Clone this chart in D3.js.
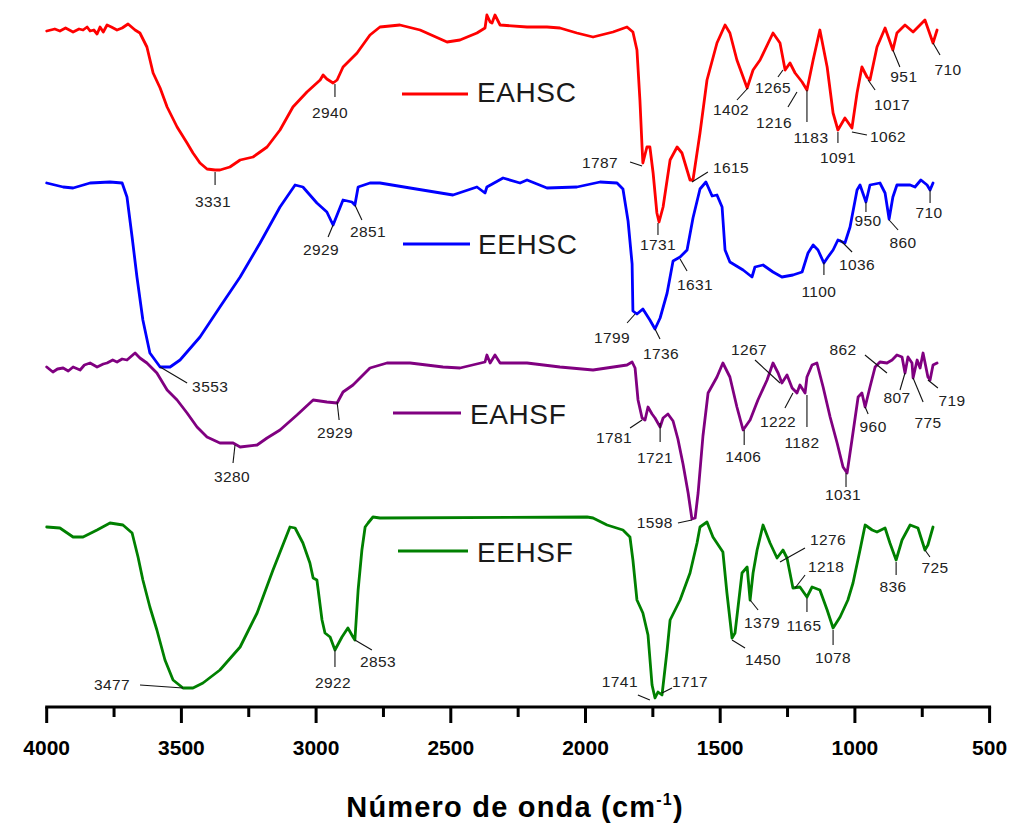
<!DOCTYPE html>
<html>
<head>
<meta charset="utf-8">
<script src="https://cdn.jsdelivr.net/npm/d3@7/dist/d3.min.js"></script>
<style>
  html, body { margin: 0; padding: 0; background: #fff; }
  svg { display: block; }
</style>
</head>
<body>
<svg id="chart" width="1014" height="827"></svg>
<script>
// FTIR spectra, stacked traces: wavenumber (cm-1) vs. offset transmittance (a.u.)
const seriesNames = ["EAHSC", "EEHSC", "EAHSF", "EEHSF"];
const seriesColors = ["#ff0000", "#0000ff", "#800080", "#008000"];
const xTicks = [4000, 3500, 3000, 2500, 2000, 1500, 1000, 500];

const eahsc = [
  [4000,67.5],[3970,67.7],[3951,67.5],[3930,67.8],[3902,67.4],[3880,67.7],[3865,67.6],[3850,67.9],[3839,67.5],[3825,67.6],[3813,67.2],[3802,67.9],[3790,67.4],
  [3776,68.1],[3760,67.9],[3739,67.6],[3720,67.8],[3698,68.2],[3672,67.6],[3654,67.3],[3628,65.9],[3605,63.3],
  [3579,61.8],[3553,59.9],[3516,57.9],[3479,56.3],[3457,55.3],[3431,54.3],[3405,53.7],[3375,53.6],
  [3357,53.6],[3320,53.9],[3282,54.6],[3234,54.9],[3208,55.4],[3182,55.9],[3134,57.6],[3086,59.9],
  [3034,61.4],[2985,62.6],[2974,63.1],[2960,62.7],[2937,62.3],[2922,62.6],[2900,63.9],[2848,65.3],
  [2800,67.1],[2763,67.9],[2689,68.1],[2614,67.6],[2514,66.4],[2466,66.6],[2403,67.3],[2373,67.8],
  [2366,69.1],[2354,68.4],[2347,68.3],[2336,69.1],[2317,68.1],[2217,67.9],[2143,67.9],[2095,67.8],
  [2032,67.3],[1972,66.9],[1898,67.4],[1846,67.9],[1824,67.4],[1809,65.6],[1798,60.6],[1790,55.9],
  [1787,54.3],[1772,55.9],[1761,55.9],[1749,53.3],[1735,49.3],[1727,48.4],[1712,49.9],[1686,54.6],
  [1660,55.9],[1642,55.3],[1612,52.6],[1601,52.6],[1575,57.3],[1549,62.6],[1512,66.3],[1482,68.1],
  [1464,67.3],[1438,64.6],[1400,61.8],[1378,63.6],[1352,64.6],[1304,67.3],[1278,66.3],[1259,63.6],
  [1241,64.3],[1222,63.3],[1196,62.4],[1178,61.6],[1155,64.6],[1130,67.6],[1103,63.9],[1081,59.3],
  [1063,57.6],[1037,58.8],[1011,57.8],[992,61.3],[974,63.9],[955,62.9],[944,62.6],[918,65.9],
  [888,67.8],[859,65.6],[844,67.3],[814,68.1],[784,67.4],[740,68.6],[710,66.3],[695,67.6]
];

const eehsc = [
  [4000,52.3],[3939,51.9],[3902,51.8],[3839,52.3],[3765,52.4],[3720,52.3],[3702,50.9],[3683,46.9],
  [3665,42.9],[3643,38.6],[3617,35.3],[3579,33.9],[3542,33.9],[3505,34.6],[3431,36.9],[3357,39.9],
  [3282,42.9],[3208,46.3],[3134,49.9],[3078,52.1],[3049,51.9],[2997,50.3],[2960,49.4],[2937,48.1],
  [2900,50.6],[2867,50.4],[2856,50.1],[2844,51.9],[2800,52.3],[2763,52.3],[2651,51.8],[2492,51.1],
  [2403,51.9],[2373,51.3],[2366,51.9],[2306,52.8],[2243,52.3],[2217,52.6],[2143,51.8],[2032,51.9],
  [1946,52.4],[1883,52.3],[1861,51.7],[1842,48.5],[1827,44.2],[1824,39.5],[1809,39.2],[1787,39.7],
  [1761,38.6],[1742,37.7],[1723,38.8],[1697,41.3],[1675,44.5],[1649,44.9],[1623,45.6],[1601,48.8],
  [1575,51.7],[1553,52.4],[1530,51.0],[1512,51.1],[1493,49.9],[1482,45.6],[1464,44.4],[1415,43.6],
  [1382,42.9],[1371,43.9],[1341,44.1],[1304,43.4],[1271,42.9],[1230,43.1],[1196,43.4],[1174,45.3],
  [1155,46.1],[1137,45.6],[1115,44.3],[1100,44.9],[1081,45.6],[1063,46.6],[1037,46.3],[1018,47.9],
  [992,51.6],[981,52.1],[959,50.4],[944,52.1],[907,52.3],[888,51.3],[873,48.7],[859,50.9],
  [844,52.1],[795,52.1],[777,51.9],[755,52.6],[732,52.1],[721,51.6],[710,52.3]
];

const eahsf = [
  [4000,33.9],[3977,33.4],[3960,33.7],[3939,33.8],[3920,33.5],[3902,33.9],[3876,33.6],[3860,34.1],[3839,34.3],[3813,33.9],[3790,34.2],[3776,34.3],
  [3755,34.6],[3739,34.4],[3720,34.7],[3702,34.6],[3672,35.3],[3654,34.8],[3628,34.3],[3591,33.3],[3553,31.6],[3516,30.6],
  [3479,29.3],[3442,27.9],[3405,26.9],[3357,26.3],[3308,26.3],[3282,25.9],[3219,26.1],[3182,26.8],
  [3134,27.6],[3071,29.1],[3011,30.6],[2960,30.4],[2922,30.3],[2900,31.4],[2863,32.1],[2800,33.8],
  [2737,34.3],[2651,34.3],[2529,33.9],[2466,33.8],[2373,34.4],[2366,35.1],[2354,34.3],[2336,35.1],
  [2317,34.3],[2217,34.3],[2095,33.9],[1972,33.6],[1846,34.1],[1827,34.4],[1816,33.8],[1805,30.6],
  [1790,28.8],[1779,28.6],[1768,29.9],[1753,29.2],[1742,28.8],[1723,27.9],[1712,28.8],[1694,29.2],
  [1675,28.5],[1657,26.7],[1638,24.2],[1619,21.3],[1605,18.7],[1593,18.8],[1582,21.3],[1564,27.0],
  [1545,31.3],[1512,32.9],[1490,34.3],[1464,32.9],[1438,29.9],[1415,27.6],[1389,28.6],[1360,30.6],
  [1326,32.6],[1304,34.3],[1285,33.3],[1271,32.3],[1252,33.1],[1233,31.8],[1215,31.3],[1204,32.1],
  [1185,31.3],[1178,32.9],[1159,34.1],[1141,34.3],[1118,31.9],[1092,28.9],[1066,26.3],[1044,23.9],
  [1029,23.3],[1011,26.6],[988,30.9],[974,31.3],[962,29.9],[944,31.9],[925,33.9],[907,34.4],
  [881,34.3],[862,34.6],[844,35.1],[825,34.9],[814,33.3],[803,34.9],[788,34.3],[784,32.8],
  [769,34.6],[758,33.8],[747,35.3],[729,32.9],[721,32.6],[710,34.1],[695,34.3]
];

const eehsf = [
  [4000,17.9],[3951,17.8],[3902,16.9],[3865,16.9],[3813,17.6],[3765,18.3],[3717,18.1],[3683,17.3],
  [3661,14.9],[3643,12.6],[3617,9.9],[3591,7.6],[3561,4.6],[3531,2.6],[3494,1.8],[3457,1.8],
  [3420,2.3],[3357,3.6],[3282,5.9],[3219,9.3],[3160,13.6],[3097,17.9],[3078,17.8],[3049,16.3],
  [3023,14.3],[3011,12.8],[2997,12.6],[2978,8.6],[2967,7.3],[2948,6.9],[2930,5.6],[2904,6.9],
  [2882,7.8],[2863,6.9],[2856,6.6],[2844,11.6],[2830,15.6],[2818,17.9],[2807,18.3],[2789,18.9],
  [2763,18.8],[1994,18.9],[1972,18.8],[1920,18.1],[1861,17.6],[1835,16.9],[1824,14.6],[1809,10.6],
  [1787,9.3],[1768,7.1],[1753,2.1],[1742,0.8],[1731,1.4],[1716,1.1],[1697,5.6],[1686,8.6],
  [1649,10.6],[1612,13.3],[1586,16.3],[1575,17.9],[1549,18.4],[1527,16.9],[1490,15.4],[1475,11.3],
  [1456,6.8],[1445,7.3],[1419,13.3],[1400,13.9],[1389,10.6],[1378,13.3],[1363,15.6],[1341,18.1],
  [1315,16.3],[1289,14.8],[1267,15.6],[1252,14.8],[1230,11.8],[1204,11.9],[1178,10.9],[1159,11.9],
  [1130,11.6],[1103,9.6],[1081,7.8],[1055,8.9],[1026,10.6],[1007,12.3],[981,15.6],[962,18.1],
  [936,17.6],[918,17.4],[888,17.8],[870,16.3],[847,14.6],[825,16.6],[795,18.1],[766,17.8],
  [740,15.6],[729,16.1],[710,17.9]
];

// Peak labels: [text, wavenumber where the leader meets the trace, trace value there]
const eahscPeaks = [
  ["3331",3375,53.4],["2940",2930,62.2],["1787",1790,54.0],["1731",1731,48.3],["1615",1605,52.4],
  ["1402",1397,61.8],["1265",1267,63.6],["1216",1215,61.4],["1183",1178,61.6],["1091",1063,57.4],
  ["1062",1011,57.4],["1017",951,62.6],["951",859,65.6],["710",710,66.3]
];
const eehscPeaks = [
  ["3553",3579,33.9],["2929",2937,48.1],["2851",2856,50.1],["1799",1816,39.2],["1736",1742,37.7],
  ["1631",1649,44.7],["1100",1115,44.4],["1036",1055,46.6],["950",959,50.4],["860",873,48.6],
  ["710",721,51.6]
];
const eahsfPeaks = [
  ["3280",3301,26.1],["2929",2922,30.4],["1781",1790,28.6],["1721",1723,28.3],["1598",1605,18.6],
  ["1406",1411,27.6],["1267",1278,32.3],["1222",1230,31.3],["1182",1178,31.1],["1031",1033,23.3],
  ["960",962,29.9],["862",881,33.3],["807",814,33.3],["775",784,32.8],["719",729,32.6]
];
const eehsfPeaks = [
  ["3477",3494,1.8],["2922",2930,5.6],["2853",2856,6.6],["1741",1761,0.6],["1717",1716,1.3],
  ["1450",1456,6.6],["1379",1389,10.6],["1276",1278,14.4],["1218",1222,11.8],["1165",1178,10.8],
  ["1078",1081,7.6],["836",847,14.4],["725",740,15.6]
];

// Leader and label placement for each peak label (pixel offsets from the anchor):
// [leader dx, leader dy, text dx, text dy (baseline), text-anchor]
const eahscLeaders = [
  [0,13,-2,35,"middle"],[0,13,-5,34,"middle"],[-12,-4,-24,2,"end"],[0,12,0,27,"middle"],[16,-10,21,-9,"start"],
  [-11,12,-17,27,"middle"],[-5,7,-10,23,"middle"],[-9,15,-23,36,"middle"],[0,32,4,53,"middle"],[0,11,0,31,"middle"],
  [15,3,18,10,"start"],[7,10,24,30,"middle"],[7,17,11,32,"middle"],[7,12,15,32,"middle"]
];
const eehscLeaders = [
  [27,16,32,25,"start"],[-5,12,-12,30,"middle"],[7,15,-5,32,"start"],[-8,9,-23,29,"middle"],[5,10,6,30,"middle"],
  [7,12,15,31,"middle"],[0,13,-5,35,"middle"],[12,12,17,30,"middle"],[0,10,2,24,"middle"],[9,10,14,28,"middle"],
  [0,13,-1,28,"middle"]
];
const eahsfLeaders = [
  [-2,18,-3,37,"middle"],[2,18,-2,36,"middle"],[-12,8,-28,23,"middle"],[0,19,-5,40,"middle"],[-14,3,-19,8,"end"],
  [0,15,-1,32,"middle"],[-25,-23,-31,-28,"middle"],[-8,15,-15,34,"middle"],[0,32,-5,53,"middle"],[0,14,-3,27,"middle"],
  [3,7,8,25,"middle"],[-22,-18,-44,-18,"middle"],[-5,17,-8,30,"middle"],[10,24,15,50,"middle"],[10,8,24,26,"middle"]
];
const eehsfLeaders = [
  [-43,-3,-53,2,"end"],[0,17,-2,38,"middle"],[17,10,5,27,"start"],[-12,-5,-30,-13,"middle"],[10,-5,10,-6,"start"],
  [13,8,13,25,"start"],[8,10,12,28,"middle"],[25,-14,30,-17,"start"],[10,-13,13,-16,"start"],[0,14,-3,33,"middle"],
  [0,15,0,33,"middle"],[0,13,-3,30,"middle"],[5,7,10,23,"middle"]
];

// Legend entries placed beside each trace: [line x0, line x1, line y, text x, text baseline]
const legendLayout = [
  [402, 468, 94, 477, 102],
  [403, 470, 244, 478, 254],
  [393, 461, 413, 470, 424],
  [398, 468, 551, 477, 562]
];

const seriesData = [eahsc, eehsc, eahsf, eehsf];
const peakData = [eahscPeaks, eehscPeaks, eahsfPeaks, eehsfPeaks];
const leaderData = [eahscLeaders, eehscLeaders, eahsfLeaders, eehsfLeaders];

const svg = d3.select("#chart");
const x = d3.scaleLinear().domain([4000, 500]).range([46.7, 989.6]);
const y = d3.scaleLinear().domain([0, 70]).range([706, 6]);

const line = d3.line().x(d => x(d[0])).y(d => y(d[1]));

// Traces
seriesData.forEach((data, i) => {
  svg.append("path")
    .datum(data)
    .attr("d", line)
    .attr("fill", "none")
    .attr("stroke", seriesColors[i])
    .attr("stroke-width", 2.8)
    .attr("stroke-linejoin", "round")
    .attr("stroke-linecap", "round");
});

// Peak annotations
const annG = svg.append("g");
peakData.forEach((peaks, i) => {
  peaks.forEach((p, j) => {
    const [lx, ly, tx, ty, anchor] = leaderData[i][j];
    const ax = x(p[1]), ay = y(p[2]);
    annG.append("line")
      .attr("x1", ax).attr("y1", ay)
      .attr("x2", ax + lx).attr("y2", ay + ly)
      .attr("stroke", "#111").attr("stroke-width", 1.1);
    annG.append("text")
      .attr("x", ax + tx).attr("y", ay + ty)
      .attr("text-anchor", anchor)
      .attr("font-family", "Arial, 'Liberation Sans', sans-serif")
      .attr("font-size", 15.5)
      .attr("letter-spacing", 0.4)
      .attr("fill", "#222")
      .text(p[0]);
  });
});

// Legend
const legG = svg.append("g");
seriesNames.forEach((name, i) => {
  const [x0, x1, ly, tx, ty] = legendLayout[i];
  legG.append("line")
    .attr("x1", x0).attr("x2", x1).attr("y1", ly).attr("y2", ly)
    .attr("stroke", seriesColors[i]).attr("stroke-width", 2.8);
  legG.append("text")
    .attr("x", tx).attr("y", ty)
    .attr("font-family", "Arial, 'Liberation Sans', sans-serif")
    .attr("font-size", 28)
    .attr("letter-spacing", 0.6)
    .attr("fill", "#1a1a1a")
    .text(name);
});

// Bottom axis
const axisY = 707;
const axisG = svg.append("g").attr("transform", `translate(0,${axisY})`);
axisG.append("line")
  .attr("x1", x(4000) - 1.5).attr("x2", x(500) + 1.5)
  .attr("stroke", "#000").attr("stroke-width", 3);

const minorTicks = d3.range(3750, 500, -500);
axisG.selectAll("line.minor").data(minorTicks).join("line")
  .attr("class", "minor")
  .attr("x1", d => x(d)).attr("x2", d => x(d))
  .attr("y1", 0).attr("y2", 10)
  .attr("stroke", "#000").attr("stroke-width", 3);

axisG.selectAll("line.major").data(xTicks).join("line")
  .attr("class", "major")
  .attr("x1", d => x(d)).attr("x2", d => x(d))
  .attr("y1", 0).attr("y2", 16)
  .attr("stroke", "#000").attr("stroke-width", 3);

axisG.selectAll("text.tick").data(xTicks).join("text")
  .attr("class", "tick")
  .attr("x", d => x(d)).attr("y", 48)
  .attr("text-anchor", "middle")
  .attr("font-family", "Arial, 'Liberation Sans', sans-serif")
  .attr("font-weight", "bold")
  .attr("font-size", 21)
  .attr("fill", "#000")
  .text(d => d);

// Axis title with superscript
const title = svg.append("text")
  .attr("x", 515).attr("y", 817)
  .attr("text-anchor", "middle")
  .attr("font-family", "Arial, 'Liberation Sans', sans-serif")
  .attr("font-weight", "bold")
  .attr("font-size", 29)
  .attr("letter-spacing", 1.2)
  .attr("fill", "#000");
title.append("tspan").text("Número de onda (cm");
title.append("tspan").attr("dy", -12).attr("font-size", 16).text("-1");
title.append("tspan").attr("dy", 12).text(")");
</script>
</body>
</html>
